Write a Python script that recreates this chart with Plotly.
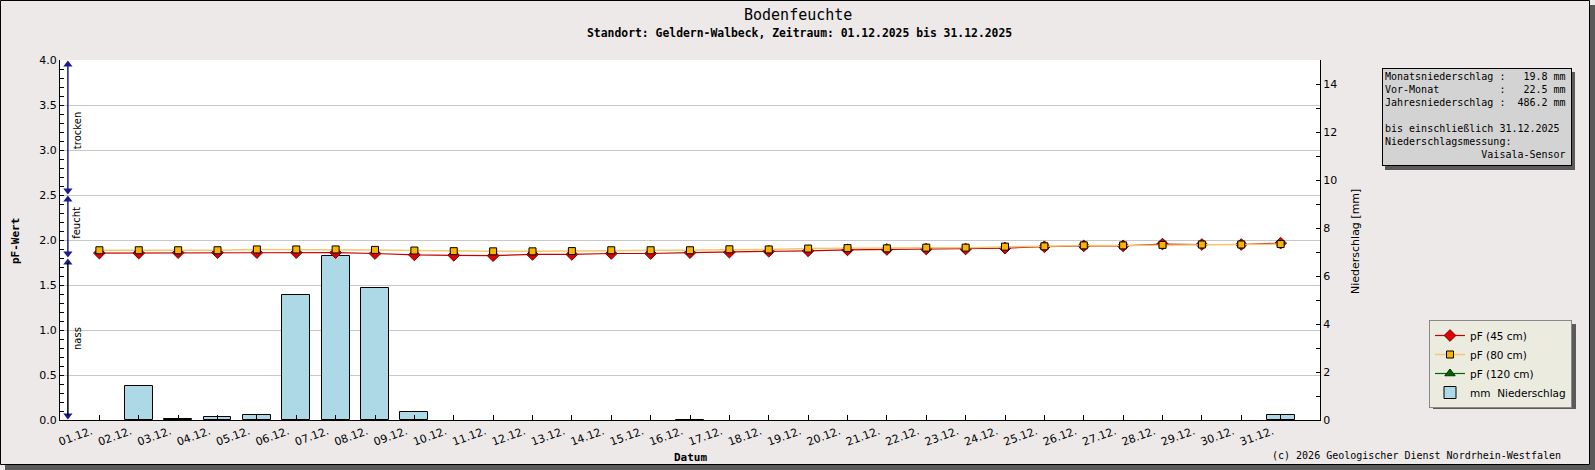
import plotly.graph_objects as go

# --- Data ---
tage = list(range(1, 32))
tag_labels = [f"{d:02d}.12." for d in tage]

pf_45cm = [1.855, 1.855, 1.86, 1.86, 1.86, 1.86, 1.86, 1.85, 1.835, 1.83,
           1.826, 1.84, 1.84, 1.85, 1.85, 1.86, 1.865, 1.875, 1.88, 1.89,
           1.895, 1.90, 1.90, 1.91, 1.925, 1.935, 1.935, 1.955, 1.95, 1.95, 1.965]
pf_80cm = [1.886, 1.886, 1.886, 1.886, 1.895, 1.895, 1.895, 1.89, 1.883, 1.876,
           1.874, 1.874, 1.877, 1.886, 1.886, 1.886, 1.897, 1.895, 1.905, 1.91,
           1.907, 1.915, 1.915, 1.926, 1.93, 1.94, 1.94, 1.946, 1.95, 1.95, 1.955]
pf_120cm = [None] * 31
niederschlag_mm = [0, 1.42, 0.03, 0.11, 0.2, 5.2, 6.82, 5.49, 0.32, 0,
                   0, 0, 0, 0, 0, 0.02, 0, 0, 0, 0,
                   0, 0, 0, 0, 0, 0, 0, 0, 0, 0, 0.2]

# pF classes shown on the left (range, label, label position, line colour)
klassen = [(2.5, 4.0, "trocken", 3.22, "#1c1c8c"),
           (1.8, 2.5, "feucht", 2.19, "#1c1c8c"),
           (0.0, 1.8, "nass", 0.91, "#000000")]
pfeil_y = [3.95, 2.55, 2.45, 1.85, 1.75, 0.05]
pfeil_sym = ["triangle-up", "triangle-down", "triangle-up",
             "triangle-down", "triangle-up", "triangle-down"]

info_lines = [
    "Monatsniederschlag :   19.8 mm",
    "Vor-Monat          :   22.5 mm",
    "Jahresniederschlag :  486.2 mm",
    "",
    "bis einschließlich 31.12.2025",
    "Niederschlagsmessung:",
    "                Vaisala-Sensor",
]

# --- Layout geometry (pixels) ---
W, H = 1595, 470
L, R, T, B = 60, 275, 60, 50
PW, PH = W - L - R, H - T - B


def px2x(p):
    return (p - L) / PW


def py2y(p):
    return (H - B - p) / PH


MONO = "DejaVu Sans Mono"
SANS = "DejaVu Sans"
SHADOW = "#5a5a5a"

fig = go.Figure()

fig.add_trace(go.Scatter(
    x=tage, y=pf_45cm, yaxis="y2", mode="lines+markers", name="pF (45 cm)",
    line=dict(color="#c80000", width=1.2),
    marker=dict(symbol="diamond", size=9, color="#e00000",
                line=dict(color="#700000", width=1))))
fig.add_trace(go.Scatter(
    x=tage, y=pf_80cm, yaxis="y2", mode="lines+markers", name="pF (80 cm)",
    line=dict(color="#f3c870", width=1.5),
    marker=dict(symbol="square", size=7, color="#f8b400",
                line=dict(color="black", width=1))))
fig.add_trace(go.Scatter(
    x=tage, y=pf_120cm, yaxis="y2", mode="lines+markers", name="pF (120 cm)",
    line=dict(color="#006400", width=1.2),
    marker=dict(symbol="triangle-up", size=9, color="#006400",
                line=dict(color="#003000", width=1))))

# precipitation bars on the (right) mm axis - base subplot, so drawn underneath
# (days without rain get no bar, so no outline is drawn on the axis)
fig.add_trace(go.Bar(
    x=tage, y=[v if v > 0 else None for v in niederschlag_mm], width=0.71, yaxis="y",
    marker=dict(color="#add8e6", line=dict(color="black", width=1)),
    name="mm\u00a0\u00a0Niederschlag"))

# arrow heads of the class bars
fig.add_trace(go.Scatter(
    x=[0.2] * len(pfeil_y), y=pfeil_y, yaxis="y2", mode="markers",
    marker=dict(symbol=pfeil_sym, size=8, color="#1c1c8c"),
    showlegend=False, hoverinfo="skip"))

shapes = []
annotations = []

for y0, y1, label, ymid, col in klassen:
    shapes.append(dict(type="line", xref="x", yref="y2", x0=0.2, x1=0.2,
                       y0=y0 + 0.05, y1=y1 - 0.05, line=dict(color=col, width=1.5)))
    annotations.append(dict(text=label, xref="x", yref="y2", x=0.43, y=ymid,
                            xanchor="center", yanchor="middle",
                            textangle=-90, showarrow=False,
                            font=dict(family=SANS, size=10, color="black")))

# outer frame with shadow
shapes += [
    dict(type="rect", xref="paper", yref="paper", x0=px2x(1590), x1=px2x(1595),
         y0=py2y(5), y1=py2y(470), fillcolor=SHADOW, line=dict(width=0)),
    dict(type="rect", xref="paper", yref="paper", x0=px2x(5), x1=px2x(1595),
         y0=py2y(465), y1=py2y(470), fillcolor=SHADOW, line=dict(width=0)),
    dict(type="rect", xref="paper", yref="paper", x0=px2x(0.5), x1=px2x(1589.5),
         y0=py2y(0.5), y1=py2y(464.5), line=dict(color="black", width=1)),
    # info box shadow
    dict(type="rect", xref="paper", yref="paper", x0=px2x(1385), x1=px2x(1575),
         y0=py2y(72), y1=py2y(170), fillcolor=SHADOW, line=dict(width=0)),
    # legend shadow
    dict(type="rect", xref="paper", yref="paper", x0=px2x(1433), x1=px2x(1576),
         y0=py2y(324), y1=py2y(409), fillcolor=SHADOW, line=dict(width=0)),
]


def label(text, px, py, size, family=MONO, angle=0, xanchor="center"):
    return dict(text=text, xref="paper", yref="paper", x=px2x(px), y=py2y(py),
                xanchor=xanchor, yanchor="middle", textangle=angle, showarrow=False,
                font=dict(family=family, size=size, color="black"))


info_text = "<br>".join(s.replace(" ", "\u00a0") for s in info_lines)
annotations += [
    label("Bodenfeuchte", 797.5, 15, 15),
    label("<b>Standort: Geldern-Walbeck, Zeitraum: 01.12.2025 bis 31.12.2025</b>",
          799, 33, 11.4),
    label("<b>pF-Wert</b>", 15, 241, 11, angle=-90),
    label("Niederschlag [mm]", 1355, 241, 11, family=SANS, angle=-90),
    label("<b>Datum</b>", 690, 457, 11),
    label("(c) 2026 Geologischer Dienst Nordrhein-Westfalen", 1563, 455, 10,
          xanchor="right"),
    dict(text=info_text, xref="paper", yref="paper", x=px2x(1382), y=py2y(68),
         xanchor="left", yanchor="top", align="left", valign="top", showarrow=False,
         width=184, height=92, borderpad=2, bgcolor="#d3d3d3", bordercolor="black",
         borderwidth=1, font=dict(family=MONO, size=10, color="black")),
]

fig.update_layout(
    width=W, height=H,
    margin=dict(l=L, r=R, t=T, b=B),
    paper_bgcolor="#ece9e8",
    plot_bgcolor="white",
    bargap=0,
    showlegend=True,
    legend=dict(x=px2x(1429), y=py2y(320), xanchor="left", yanchor="top",
                bgcolor="#ebebe0", bordercolor="#888888", borderwidth=1,
                font=dict(family=SANS, size=10.5, color="black"),
                tracegroupgap=0, traceorder="normal", itemwidth=30),
    xaxis=dict(range=[0, 32], tickvals=tage, ticktext=tag_labels, tickangle=-20,
               ticks="inside", ticklen=5, tickcolor="black", showgrid=False,
               showline=True, linecolor="black", linewidth=1, zeroline=False,
               ticklabelshift=-8,
               tickfont=dict(family=SANS, size=11, color="black")),
    yaxis=dict(range=[0, 15], side="right", tickvals=list(range(0, 15, 2)),
               ticks="inside", ticklen=4, tickcolor="black", showgrid=False,
               showline=True, linecolor="black", linewidth=1, zeroline=False,
               minor=dict(dtick=1, tick0=0, ticks="inside", ticklen=4,
                          tickcolor="black", showgrid=False),
               tickfont=dict(family=SANS, size=11, color="black")),
    yaxis2=dict(range=[0, 4], side="left", overlaying="y", dtick=0.5, tick0=0,
                tickformat=".1f", ticks="inside", ticklen=4, tickcolor="black",
                showgrid=True, gridcolor="#c8c8c8", gridwidth=1,
                showline=True, linecolor="black", linewidth=1, zeroline=False,
                minor=dict(dtick=0.1, tick0=0, ticks="inside", ticklen=4,
                           tickcolor="black", showgrid=False),
                tickfont=dict(family=SANS, size=11, color="black")),
    shapes=shapes,
    annotations=annotations,
)

# the page's default body margin would shift the whole chart by 8px
fig.write_html("out.html", config={"displayModeBar": False},
               post_script="document.body.style.margin='0';")
